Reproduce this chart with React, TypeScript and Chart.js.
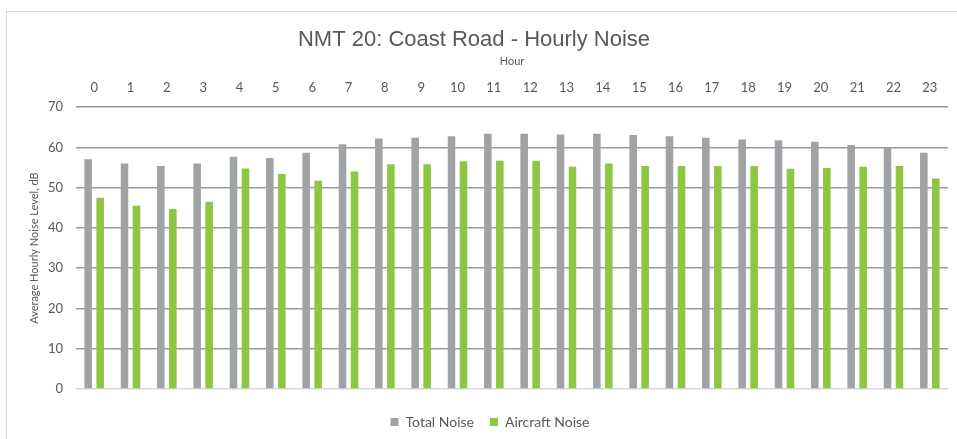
import React, { useEffect, useRef } from "react";
import { Chart, registerables } from "chart.js";

Chart.register(...registerables);

const hours = ["0","1","2","3","4","5","6","7","8","9","10","11","12","13","14","15","16","17","18","19","20","21","22","23"];
const totalNoise = [57.1, 56.0, 55.4, 56.0, 57.7, 57.4, 58.7, 60.8, 62.2, 62.4, 62.8, 63.4, 63.4, 63.2, 63.4, 63.1, 62.8, 62.4, 62.0, 61.8, 61.4, 60.6, 59.9, 58.7];
const aircraftNoise = [47.5, 45.5, 44.7, 46.5, 54.8, 53.4, 51.7, 54.0, 55.8, 55.8, 56.6, 56.7, 56.7, 55.2, 56.0, 55.4, 55.4, 55.4, 55.4, 54.7, 54.9, 55.2, 55.4, 52.3];

const framePlugin = {
  id: "frame",
  afterLayout(chart: any) {
    if (chart.legend) {
      chart.legend.left += 16;
      chart.legend.right += 16;
      chart.legend.top += 10;
      chart.legend.bottom += 10;
    }
  },
  beforeDraw(chart: any) {
    const ctx = chart.ctx;
    ctx.save();
    ctx.fillStyle = "#ffffff";
    ctx.fillRect(0, 0, chart.width, chart.height);
    ctx.strokeStyle = "#d9d9d9";
    ctx.lineWidth = 1;
    ctx.strokeRect(6.5, 11.5, chart.width + 20, chart.height + 20);
    ctx.restore();
  },
};

export default function App() {
  const ref = useRef<HTMLCanvasElement>(null);
  useEffect(() => {
    if (!ref.current) return;
    const font = "Lato, 'Open Sans', sans-serif";
    const chart = new Chart(ref.current, {
      type: "bar",
      data: {
        labels: hours,
        datasets: [
          { label: "Total Noise", data: totalNoise, backgroundColor: "#a0a3a6", barPercentage: 0.63, categoryPercentage: 0.66 },
          { label: "Aircraft Noise", data: aircraftNoise, backgroundColor: "#8dc640", barPercentage: 0.63, categoryPercentage: 0.66 },
        ],
      },
      plugins: [framePlugin],
      options: {
        responsive: false,
        animation: false,
        devicePixelRatio: 1,
        layout: { padding: { left: 0, right: 9, top: 0, bottom: 10 } },
        plugins: {
          title: {
            display: true,
            text: "NMT 20: Coast Road - Hourly Noise",
            color: "#595959",
            font: { family: "'Liberation Sans', Arial, sans-serif", size: 22, weight: "normal" },
            padding: { top: 27, bottom: 1 },
          },
          legend: {
            position: "bottom",
            labels: {
              boxWidth: 8,
              boxHeight: 8,
              color: "#595959",
              font: { family: font, size: 14 },
              padding: 16,
            },
          },
          tooltip: { enabled: false },
        },
        scales: {
          x: {
            position: "top",
            grid: { display: false, drawTicks: false },
            border: { display: false },
            ticks: { color: "#595959", font: { family: font, size: 13 }, padding: 12 },
            title: {
              display: true,
              text: "Hour",
              color: "#595959",
              font: { family: font, size: 11 },
              padding: { top: 0, bottom: 0 },
            },
          },
          y: {
            min: 0,
            max: 70,
            ticks: { stepSize: 10, color: "#595959", font: { family: font, size: 13 }, padding: 13 },
            grid: {
              drawTicks: false,
              color: (c: any) => (c.tick && c.tick.value === 0 ? "#d9d9d9" : "#9a9a9a"),
              lineWidth: 1.5,
            },
            border: { display: false },
            title: {
              display: true,
              text: "Average Hourly Noise Level, dB",
              color: "#595959",
              font: { family: font, size: 11 },
              padding: { top: 28, bottom: 0 },
            },
            afterFit: (s: any) => {
              s.width = 76;
            },
          },
        },
      },
    } as any);
    return () => chart.destroy();
  }, []);
  return (
    <div style={{ position: "absolute", left: 0, top: 0, width: 957, height: 439 }}>
      <canvas ref={ref} width={957} height={439} />
    </div>
  );
}
